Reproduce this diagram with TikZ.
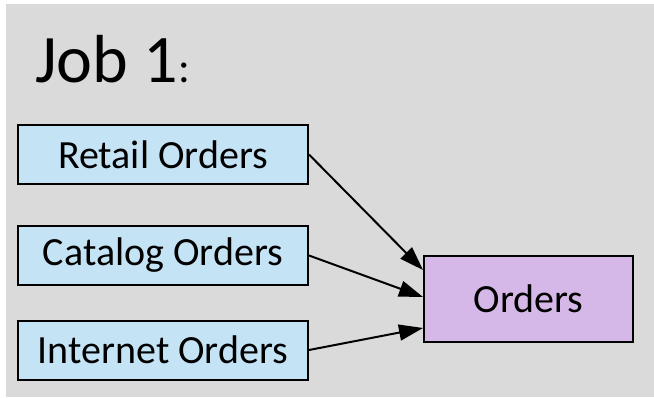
\documentclass[tikz,border=0pt]{standalone}
\usepackage{fontspec}
\setmainfont{Carlito}
\usetikzlibrary{arrows.meta}
\definecolor{bg}{RGB}{218,218,218}
\definecolor{srcblue}{RGB}{196,228,246}
\definecolor{dstpurple}{RGB}{214,184,232}
\tikzset{
  srcbox/.style={draw=black, line width=2pt, fill=srcblue, minimum width=290pt, minimum height=59pt, inner sep=0pt, font=\fontsize{40}{44}\selectfont},
  dstbox/.style={draw=black, line width=2pt, fill=dstpurple, minimum width=209pt, minimum height=86pt, inner sep=0pt, font=\fontsize{40}{44}\selectfont},
  conn/.style={line width=2pt, -{Triangle[length=24pt,width=16pt]}}
}
\begin{document}
\begin{tikzpicture}[x=1pt,y=1pt]
\useasboundingbox (0,0) rectangle (654,397);
\fill[bg] (6,0) rectangle (654,393);
\node[anchor=base west, inner sep=0pt] (title) at (35,314) {\fontsize{68}{74}\selectfont Job 1\fontsize{44}{48}\selectfont:};
\node[srcbox] (retail) at (163,242.5) {Retail Orders};
\node[srcbox] (catalog) at (163,141.5) {Catalog Orders};
\node[srcbox] (internet) at (163,47) {Internet Orders};
\node[dstbox] (orders) at (528.5,98) {Orders};
\coordinate (t1) at ([yshift=29pt]orders.west);
\coordinate (t2) at ([yshift=2pt]orders.west);
\coordinate (t3) at ([yshift=-29pt]orders.west);
\draw[conn] (retail.east) -- (t1);
\draw[conn] (catalog.east) -- (t2);
\draw[conn] (internet.east) -- (t3);
\end{tikzpicture}
\end{document}
